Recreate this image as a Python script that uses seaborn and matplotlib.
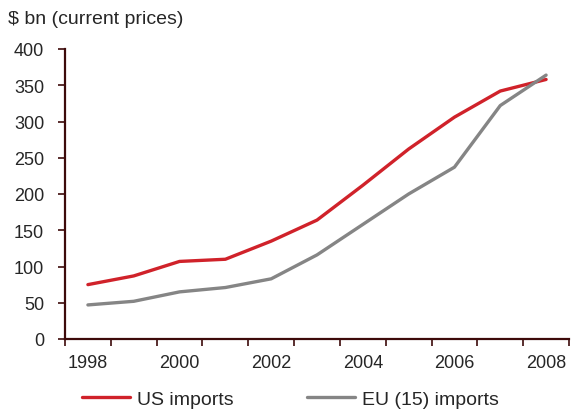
import matplotlib
matplotlib.use('Agg')
import matplotlib.pyplot as plt
import numpy as np
import pandas as pd
import seaborn as sns

years = [1998, 1999, 2000, 2001, 2002, 2003, 2004, 2005, 2006, 2007, 2008]
us_imports = [75, 87, 107, 110, 135, 164, 212, 262, 306, 342, 358]
eu_imports = [47, 52, 65, 71, 83, 116, 158, 200, 237, 322, 364]
series_names = ['US imports', 'EU (15) imports']
label_years = [1998, 2000, 2002, 2004, 2006, 2008]
y_ticks = [0, 50, 100, 150, 200, 250, 300, 350, 400]

AXIS_COLOR = '#3d0a0a'
PALETTE = {'US imports': '#d0222a', 'EU (15) imports': '#858585'}

sns.set_style('white')
plt.rcParams['font.family'] = ['Liberation Sans', 'DejaVu Sans']

df = pd.DataFrame({
    'Year': years * 2,
    'Value': us_imports + eu_imports,
    'Series': [series_names[0]] * len(years) + [series_names[1]] * len(years),
})

fig = plt.figure(figsize=(5.71, 4.10), dpi=100)
ax = fig.add_axes([65 / 571, 70 / 410, 504 / 571, 290 / 410])

sns.lineplot(data=df, x='Year', y='Value', hue='Series', palette=PALETTE,
             linewidth=2.4, ax=ax, legend=False)

ax.set_xlim(years[0] - 0.5, years[-1] + 0.5)
ax.set_ylim(0, 400)
ax.set_yticks(y_ticks)
ax.set_xlabel('')
ax.set_ylabel('')

# category-style axis: ticks between years, labels on every other year
ax.set_xticks(np.arange(years[0] - 0.5, years[-1] + 1, 1.0))
ax.set_xticklabels([])
ax.set_xticks(label_years, minor=True)
ax.set_xticklabels([str(y) for y in label_years], minor=True)
ax.tick_params(axis='x', which='major', direction='out', length=5, width=1.2,
               color=AXIS_COLOR, bottom=True)
ax.tick_params(axis='x', which='minor', length=0, pad=11, labelsize=13)
ax.tick_params(axis='y', direction='out', length=5, width=1.2, color=AXIS_COLOR,
               left=True, pad=10, labelsize=13)

for side in ['top', 'right']:
    ax.spines[side].set_visible(False)
for side in ['left', 'bottom']:
    ax.spines[side].set_color(AXIS_COLOR)
    ax.spines[side].set_linewidth(1.6)

fig.text(8 / 571, 1 - 20 / 410, '$ bn (current prices)', fontsize=14,
         va='center', ha='left')

handles = [plt.Line2D([], [], color=PALETTE[s], linewidth=2.4) for s in series_names]
fig.legend(handles, series_names, loc='center left',
           bbox_to_anchor=(82 / 571, 10 / 410), ncol=2, frameon=False,
           fontsize=14, handlelength=2.45, handletextpad=0.36,
           columnspacing=3.8, borderpad=0, borderaxespad=0)

fig.savefig('out.png', dpi=100)
